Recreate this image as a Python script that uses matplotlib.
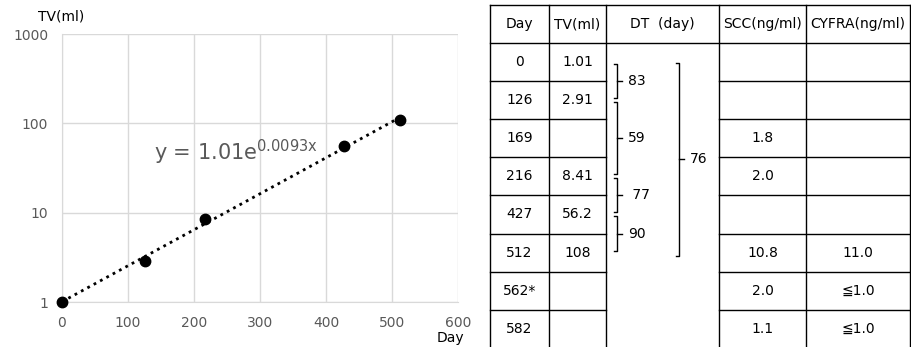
import numpy as np
import matplotlib
matplotlib.use("Agg")
import matplotlib.pyplot as plt

# ── data ─────────────────────────────────────────────────────────────────────
days = [0, 126, 216, 427, 512]
tv_ml = [1.01, 2.91, 8.41, 56.2, 108]

table_days = ["0", "126", "169", "216", "427", "512", "562*", "582"]
table_tv = ["1.01", "2.91", "", "8.41", "56.2", "108", "", ""]
table_scc = ["", "", "1.8", "2.0", "", "10.8", "2.0", "1.1"]
table_cyfra = ["", "", "", "", "", "11.0", "≦1.0", "≦1.0"]
headers = ["Day", "TV(ml)", "DT  (day)", "SCC(ng/ml)", "CYFRA(ng/ml)"]
# doubling-time brackets: (first row, last row, label)
dt_short = [(0, 1, "83"), (1, 3, "59"), (3, 4, " 77"), (4, 5, "90")]
dt_long = (0, 5, "76")

GRAY = "#595959"
GRID = "#d9d9d9"
FONT = ["DejaVu Sans", "Noto Sans CJK JP"]
plt.rcParams["font.family"] = FONT
plt.rcParams["mathtext.default"] = "regular"

W, H = 912, 347
fig = plt.figure(figsize=(W / 100, H / 100), dpi=100)

# ── left: growth chart ───────────────────────────────────────────────────────
L, R, T, B = 62, 458, 34, 302
ax = fig.add_axes([L / W, 1 - B / H, (R - L) / W, (B - T) / H])
ax.set_yscale("log")
ax.set_xlim(0, 600)
ax.set_ylim(1, 1000)
ax.set_xticks(range(0, 601, 100))
ax.set_yticks([1, 10, 100, 1000])
ax.set_yticklabels(["1", "10", "100", "1000"])
ax.minorticks_off()
ax.grid(True, color=GRID, linewidth=1.0)
ax.set_axisbelow(True)
for s in ["top", "right"]:
    ax.spines[s].set_visible(False)
for s in ["left", "bottom"]:
    ax.spines[s].set_color(GRID)
ax.tick_params(length=0, labelsize=10, labelcolor=GRAY, pad=10)

# exponential trend fitted from the data
k, lna = np.polyfit(days, np.log(tv_ml), 1)
xt = np.linspace(days[0], days[-1], 200)
ax.plot(xt, np.exp(lna) * np.exp(k * xt), color="black", linestyle=(0, (1, 1.6)),
        linewidth=2.0, zorder=3)
ax.plot(days, tv_ml, "o", color="black", markersize=7.5, zorder=4, clip_on=False)

fig.text(154 / W, 1 - 152 / H, "y = 1.01e$^{0.0093x}$", fontsize=15, color=GRAY,
         va="center", ha="left")
fig.text(38 / W, 1 - 16 / H, "TV(ml)", fontsize=10, va="center", ha="left")
fig.text(437 / W, 1 - 338 / H, "Day", fontsize=10, va="center", ha="left")

# ── right: data table ────────────────────────────────────────────────────────
tx = fig.add_axes([0, 0, 1, 1])
tx.set_xlim(0, W)
tx.set_ylim(H, 0)
tx.axis("off")

col_edges = [490, 549, 606, 719, 806, 910.5]
head_top, head_bot, row_h = 5, 43, 38.1
n_rows = len(table_days)
row_edges = [head_bot + i * row_h for i in range(n_rows + 1)]
row_mid = [(row_edges[i] + row_edges[i + 1]) / 2 for i in range(n_rows)]
col_mid = [(col_edges[i] + col_edges[i + 1]) / 2 for i in range(len(col_edges) - 1)]
lw = 1.0

# outer/vertical lines
for x in col_edges:
    tx.plot([x, x], [head_top, row_edges[-1]], color="black", lw=lw)
tx.plot([col_edges[0], col_edges[-1]], [head_top, head_top], color="black", lw=lw)
tx.plot([col_edges[0], col_edges[-1]], [head_bot, head_bot], color="black", lw=lw)
# row lines (not across DT column)
for y in row_edges[1:]:
    tx.plot([col_edges[0], col_edges[2]], [y, y], color="black", lw=lw)
    tx.plot([col_edges[3], col_edges[-1]], [y, y], color="black", lw=lw)

for c, h in enumerate(headers):
    tx.text(col_mid[c], (head_top + head_bot) / 2, h, ha="center", va="center", fontsize=10)

for r in range(n_rows):
    for c, col in [(0, table_days), (1, table_tv), (3, table_scc), (4, table_cyfra)]:
        if col[r]:
            tx.text(col_mid[c], row_mid[r], col[r], ha="center", va="center", fontsize=10)


def bracket(x, y0, y1, label):
    tx.plot([x - 3, x, x, x - 3], [y0, y0, y1, y1], color="black", lw=1.0)
    ym = (y0 + y1) / 2
    tx.plot([x, x + 5], [ym, ym], color="black", lw=1.0)
    tx.text(x + 11, ym, label, ha="left", va="center", fontsize=10)


for a, b, lab in dt_short:
    bracket(617, row_mid[a] + 2, row_mid[b] - 2, lab)
bracket(679, row_mid[dt_long[0]] + 1, row_mid[dt_long[1]] + 3, dt_long[2])

fig.savefig("out.png", dpi=100)
